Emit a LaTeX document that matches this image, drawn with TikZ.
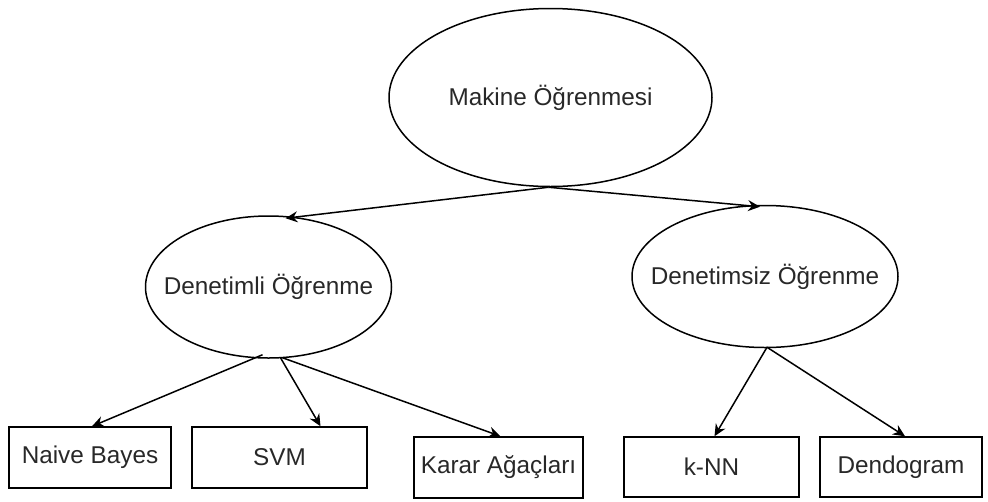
\documentclass[tikz,border=0pt]{standalone}
\usepackage{fontspec}
\setmainfont{Liberation Sans}
\usetikzlibrary{arrows.meta,shapes.geometric}
\definecolor{txt}{RGB}{40,40,40}
\newcommand{\ctext}[1]{\makebox[0pt]{#1}}
\begin{document}
\begin{tikzpicture}[x=1pt,y=-1pt,
  every node/.style={font=\fontsize{24.3}{28}\selectfont, text=txt, inner sep=0pt},
  oval/.style={draw=black, line width=1.5pt, ellipse},
  leaf/.style={draw=black, line width=1.5pt, rectangle},
  link/.style={draw=black, line width=1.5pt, -{Stealth[length=12pt,width=11pt,inset=4pt]}}]
\useasboundingbox (0,0) rectangle (988,501);
% concepts
\node[oval, minimum width=323pt, minimum height=178pt] (ml)  at (550.5,97.5) {\ctext{Makine Öğrenmesi}};
\node[oval, minimum width=246pt, minimum height=142pt] (sup) at (268.5,287)  {\ctext{Denetimli Öğrenme}};
\node[oval, minimum width=266pt, minimum height=142pt] (uns) at (765,276.5)  {\ctext{Denetimsiz Öğrenme}};
% algorithms
\node[leaf, minimum width=162pt, minimum height=61pt] (nb)  at (90,457.5)  {Naive Bayes};
\node[leaf, minimum width=175pt, minimum height=61pt] (svm) at (279.5,457.5) {SVM};
\node[leaf, minimum width=169pt, minimum height=61pt] (dt)  at (498.5,467.5) {Karar Ağaçları};
\node[leaf, minimum width=175pt, minimum height=60pt] (knn) at (711.5,467)  {k-NN};
\node[leaf, minimum width=162pt, minimum height=60pt] (den) at (901,467)   {Dendogram};
% connectors
\draw[link] ([xshift=-2pt]ml.south) -- ([xshift=17pt,yshift=-3pt]sup.north);
\draw[link] ([xshift=-2pt]ml.south) -- ([xshift=-5pt,yshift=-2pt]uns.north);
\draw[link] ([xshift=-6pt,yshift=4pt]sup.south) -- ([xshift=2pt]nb.north);
\draw[link] ([xshift=12pt,yshift=1pt]sup.south) -- ([xshift=41pt]svm.north);
\draw[link] ([xshift=14pt,yshift=1pt]sup.south) -- ([xshift=2pt]dt.north);
\draw[link] ([xshift=2pt,yshift=1pt]uns.south) -- ([xshift=3pt]knn.north);
\draw[link] ([xshift=2pt,yshift=1pt]uns.south) -- ([xshift=4pt]den.north);
\end{tikzpicture}
\end{document}
